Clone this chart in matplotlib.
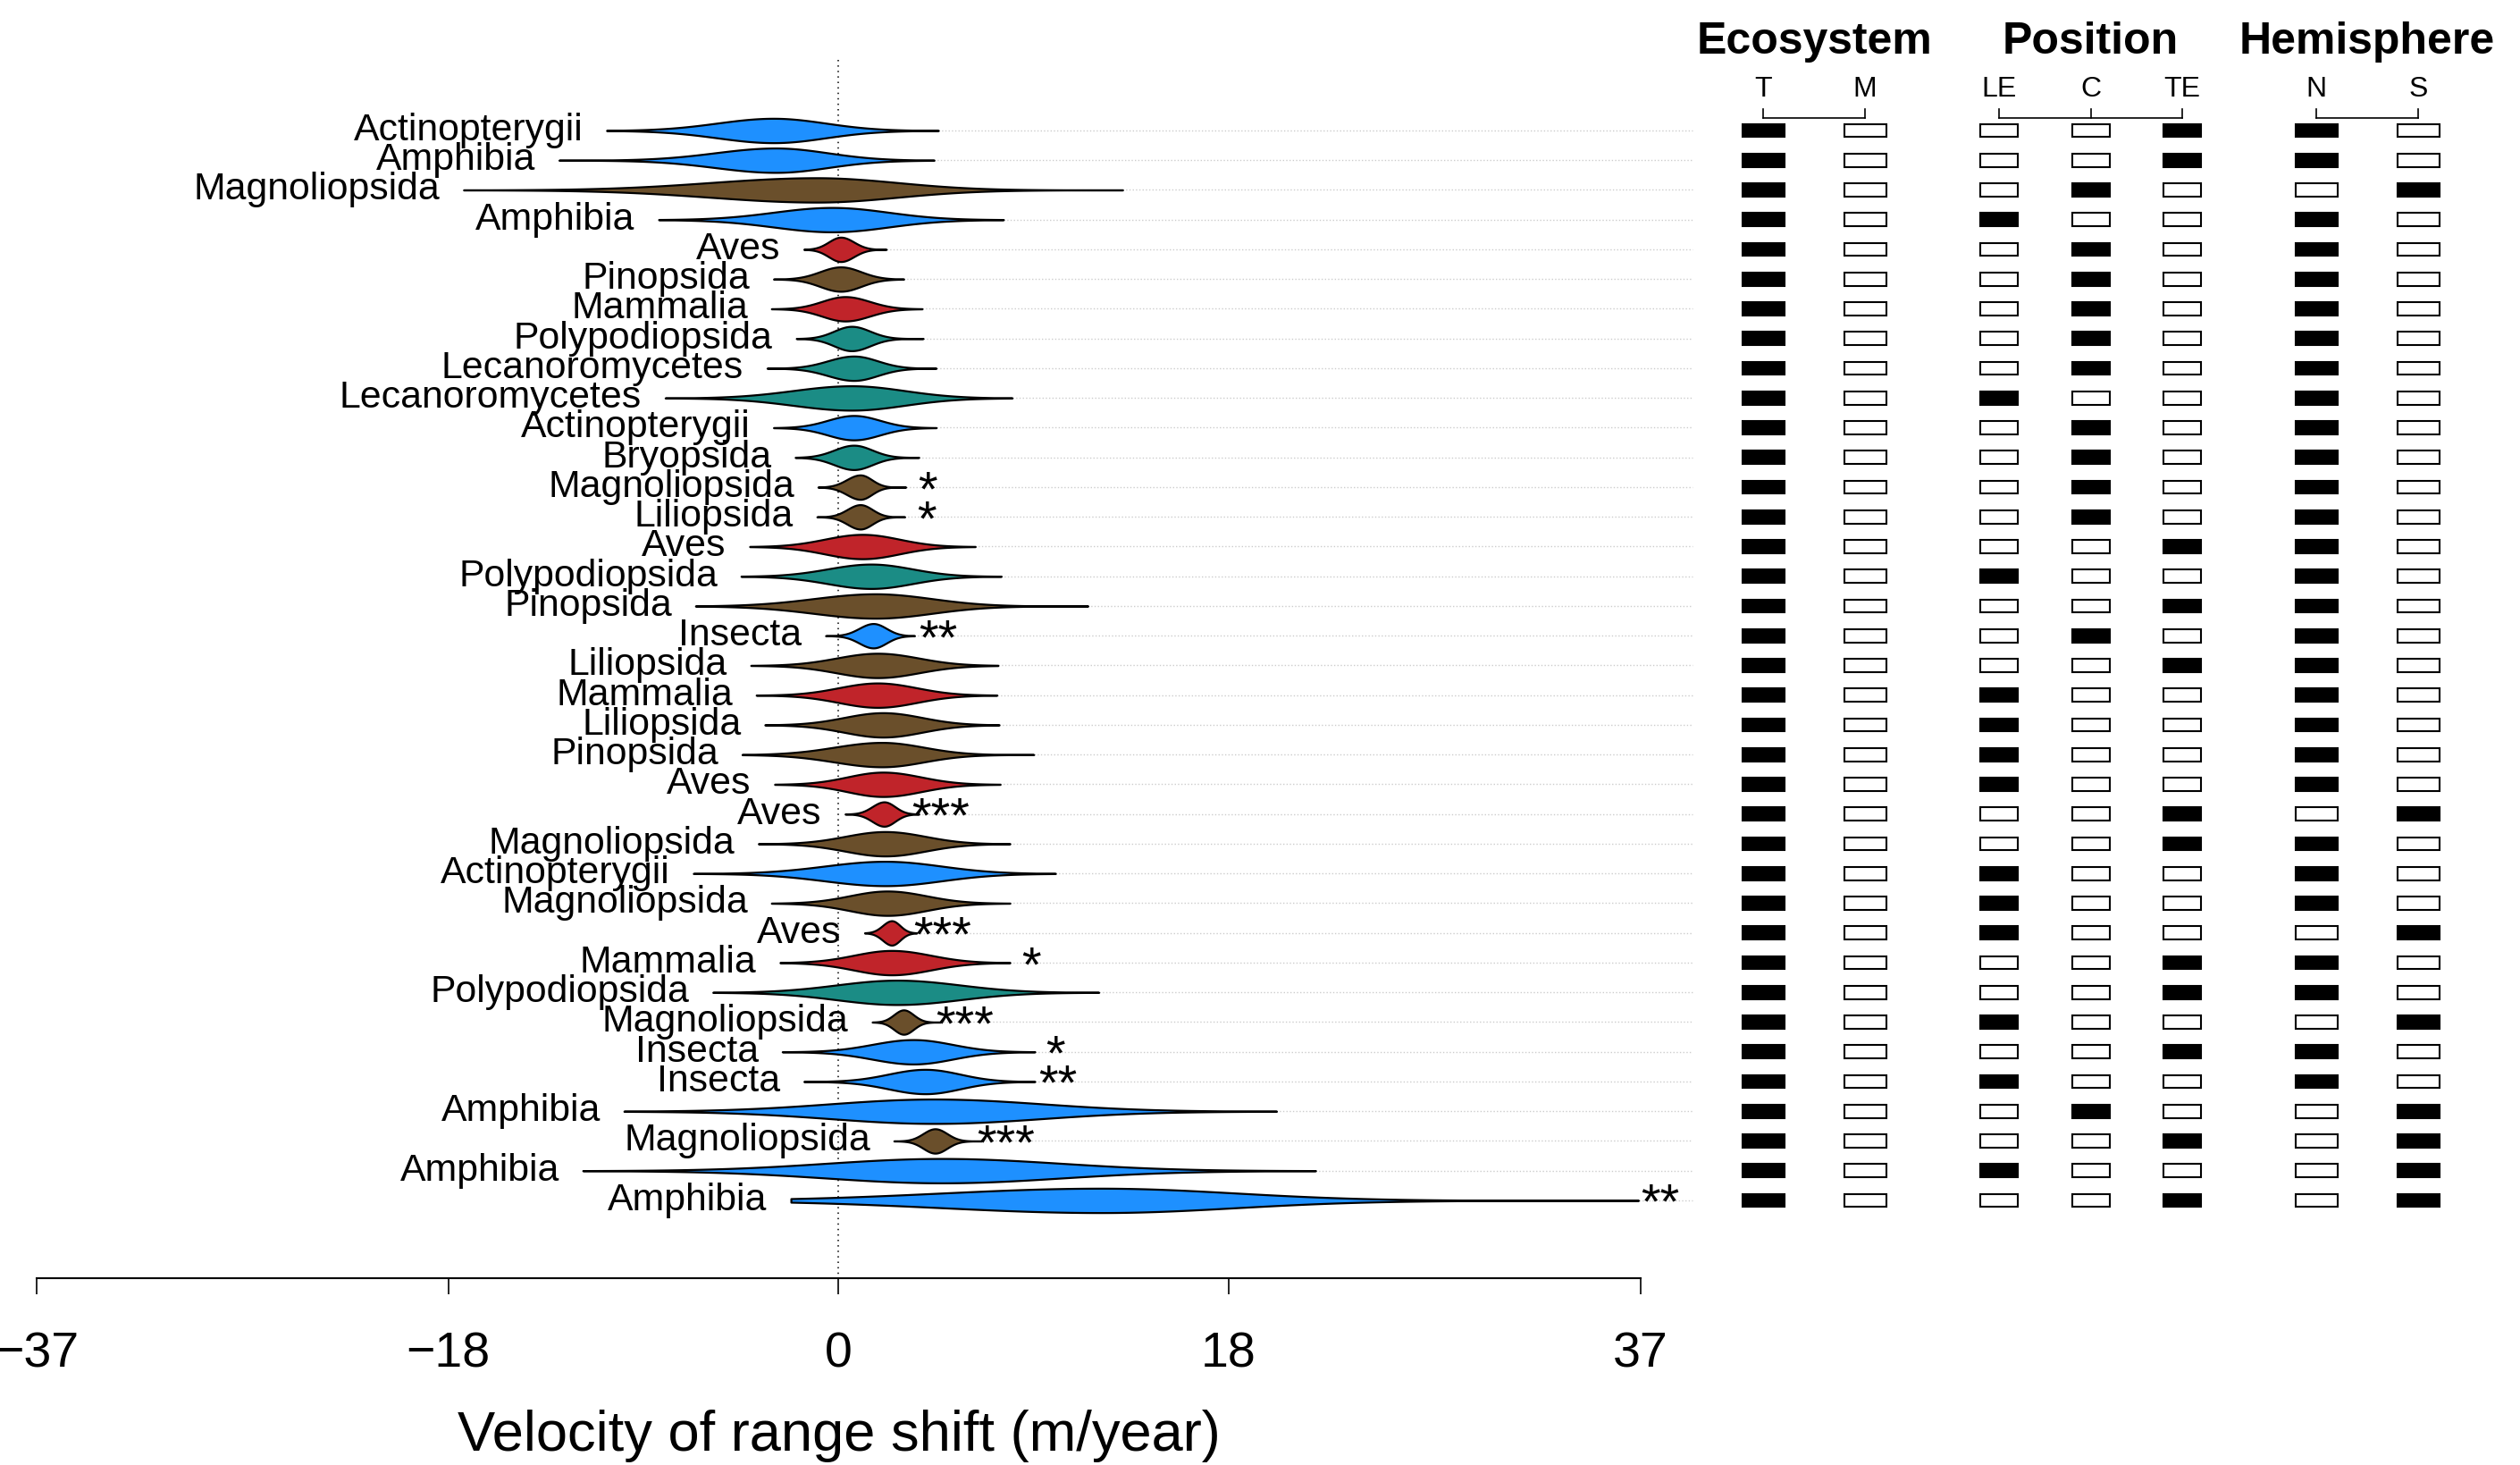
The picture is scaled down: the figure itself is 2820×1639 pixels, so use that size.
import numpy as np
import matplotlib
matplotlib.use("Agg")
import matplotlib.pyplot as plt
from matplotlib.patches import Rectangle
from matplotlib.transforms import blended_transform_factory

plt.rcParams['font.family'] = ['Liberation Sans', 'DejaVu Sans']

# ---------- data ----------
labels = ["Actinopterygii", "Amphibia", "Magnoliopsida", "Amphibia", "Aves", "Pinopsida",
          "Mammalia", "Polypodiopsida", "Lecanoromycetes", "Lecanoromycetes", "Actinopterygii",
          "Bryopsida", "Magnoliopsida", "Liliopsida", "Aves", "Polypodiopsida", "Pinopsida",
          "Insecta", "Liliopsida", "Mammalia", "Liliopsida", "Pinopsida", "Aves", "Aves",
          "Magnoliopsida", "Actinopterygii", "Magnoliopsida", "Aves", "Mammalia",
          "Polypodiopsida", "Magnoliopsida", "Insecta", "Insecta", "Amphibia", "Magnoliopsida",
          "Amphibia", "Amphibia"]

v_min = [-10.7, -12.9, -17.3, -8.3, -1.6, -3.0, -3.1, -1.95, -3.3, -8.0, -3.0, -2.0, -0.95,
         -1.0, -4.1, -4.5, -6.6, -0.6, -4.05, -3.8, -3.4, -4.45, -2.95, 0.3, -3.7, -6.7, -3.1,
         1.2, -2.7, -5.8, 1.55, -2.6, -1.6, -9.9, 2.55, -11.8, -2.2]
v_mode = [-3.0, -2.9, -1.0, -0.3, 0.1, 0.1, 0.3, 0.6, 0.7, 0.6, 0.7, 0.7, 1.0, 1.0, 1.1, 1.5,
          1.7, 1.6, 1.8, 1.8, 2.05, 2.0, 2.05, 2.1, 2.15, 2.15, 2.25, 2.45, 2.45, 2.7, 3.0,
          3.45, 4.0, 4.4, 4.45, 4.75, 12.1]
v_max = [4.6, 4.4, 13.1, 7.6, 2.2, 3.0, 3.85, 3.9, 4.5, 8.0, 4.5, 3.7, 3.1, 3.05, 6.3, 7.5,
         11.5, 3.5, 7.35, 7.3, 7.4, 9.0, 7.45, 3.7, 7.9, 10.0, 7.9, 3.6, 7.9, 12.0, 4.7, 9.05,
         9.05, 20.2, 6.6, 22.0, 36.9]
sd_left = [2.6, 2.8, 4.9, 2.7, 0.56, 0.96, 1.07, 0.81, 1.2, 2.7, 1.2, 0.9, 0.63, 0.6, 1.74,
           2.0, 2.85, 0.65, 1.9, 1.8, 1.8, 2.2, 1.65, 0.55, 1.85, 2.8, 1.75, 0.42, 1.75, 2.8,
           0.45, 1.9, 1.7, 4.8, 0.55, 5.3, 7.3]
sd_right = [2.4, 2.4, 3.7, 2.6, 0.6, 0.93, 1.13, 0.85, 1.1, 2.44, 1.2, 0.85, 0.53, 0.55, 1.7,
            1.9, 2.6, 0.6, 1.9, 1.8, 1.8, 1.93, 1.75, 0.5, 1.85, 2.6, 1.8, 0.38, 1.8, 2.9,
            0.45, 1.8, 1.6, 5.0, 0.55, 5.5, 6.2]

stars = ["", "", "", "", "", "", "", "", "", "", "", "", "*", "*", "", "", "", "**", "", "",
         "", "", "", "***", "", "", "", "***", "*", "", "***", "*", "**", "", "***", "", "**"]
star_x = [0, 0, 0, 0, 0, 0, 0, 0, 0, 0, 0, 0, 4.1, 4.05, 0, 0, 0, 4.6, 0, 0,
          0, 0, 0, 4.7, 0, 0, 0, 4.8, 8.9, 0, 5.8, 10.0, 10.1, 0, 7.7, 0, 37.9]

ecosystem = ["T"] * 37
position = ["TE", "TE", "C", "LE", "C", "C", "C", "C", "C", "LE", "C", "C", "C", "C", "TE",
            "LE", "TE", "C", "TE", "LE", "LE", "LE", "LE", "TE", "TE", "LE", "LE", "LE", "TE",
            "TE", "LE", "TE", "LE", "C", "TE", "LE", "TE"]
hemisphere = ["N", "N", "S", "N", "N", "N", "N", "N", "N", "N", "N", "N", "N", "N", "N", "N",
              "N", "N", "N", "N", "N", "N", "N", "S", "N", "N", "N", "S", "N", "N", "S", "N",
              "N", "S", "S", "S", "S"]

xticks = [-37, -18, 0, 18, 37]
xtick_labels = ["\u221237", "\u221218", "0", "18", "37"]

# ---------- style ----------
BLUE, BROWN, RED, TEAL = "#1E90FF", "#6A4F2B", "#C0242A", "#1B8C85"
class_col = {"Actinopterygii": BLUE, "Amphibia": BLUE, "Insecta": BLUE,
             "Magnoliopsida": BROWN, "Pinopsida": BROWN, "Liliopsida": BROWN,
             "Aves": RED, "Mammalia": RED,
             "Polypodiopsida": TEAL, "Lecanoromycetes": TEAL, "Bryopsida": TEAL}

W, H = 2820, 1639
fig = plt.figure(figsize=(W / 100, H / 100), dpi=100)

top_i, bot_i = -3.391, 39.617   # row units at top of figure / axis line
ax = fig.add_axes([0, 1 - 1430 / H, 1910 / W, 1430 / H])
ax.set_xlim(-38.686, 40.05)
ax.set_ylim(bot_i, top_i)

rows = np.arange(1, len(labels) + 1)
HALF = 0.41

for i, r in enumerate(rows):
    x = np.linspace(v_min[i], v_max[i], 600)
    s = np.where(x < v_mode[i], sd_left[i], sd_right[i])
    d = np.exp(-0.5 * ((x - v_mode[i]) / s) ** 2)
    ax.plot([v_max[i], 39.4], [r, r], ls=":", color="#cccccc", lw=1, zorder=1)
    ax.fill_between(x, r - HALF * d, r + HALF * d, facecolor=class_col[labels[i]],
                    edgecolor="black", lw=1.6, zorder=3)
    ax.annotate(labels[i], (v_min[i], r + 0.33), xytext=(-19, 0), textcoords="offset points",
                ha="right", va="baseline", fontsize=30.8, zorder=4)
    if stars[i]:
        ax.text(star_x[i], r + 0.6, stars[i], ha="center", va="baseline", fontsize=40, zorder=4)

ax.plot([0, 0], [-1.376, bot_i], ls=(0, (1, 3)), color="black", lw=1.1, zorder=2)

for sp in ["top", "right", "left"]:
    ax.spines[sp].set_visible(False)
ax.spines["bottom"].set_bounds(-37, 37)
ax.spines["bottom"].set_linewidth(1.5)
ax.set_yticks([])
ax.set_xticks(xticks)
ax.set_xticklabels(xtick_labels, fontsize=40)
ax.tick_params(axis="x", direction="out", length=13, width=1.2, pad=30)
trans = blended_transform_factory(ax.transData, ax.transAxes)
ax.text(0, -(1607 - 1430) / 1430, "Velocity of range shift (m/year)", transform=trans,
        ha="center", va="center", fontsize=45.5)

# ---------- category matrix ----------
ax2 = fig.add_axes([1910 / W, 1 - 1430 / H, 910 / W, 1430 / H])
ax2.set_xlim(0, 9.1)
ax2.set_ylim(bot_i, top_i)
ax2.axis("off")

col_x = {"T": 0.63, "M": 1.77, "LE": 3.27, "C": 4.30, "TE": 5.32, "N": 6.82, "S": 7.96}
groups = [("Ecosystem", ["T", "M"], ecosystem, 0.47),
          ("Position", ["LE", "C", "TE"], position, 0.42),
          ("Hemisphere", ["N", "S"], hemisphere, 0.47)]
BOX_H = 0.45
for title, cols, values, bw in groups:
    xs = [col_x[c] for c in cols]
    ax2.text(np.mean(xs), -1.586, title, ha="center", va="baseline", fontsize=36,
             fontweight="bold", clip_on=False)
    for c in cols:
        ax2.text(col_x[c], -0.143, c, ha="center", va="baseline", fontsize=23)
        ax2.plot([col_x[c], col_x[c]], [0.278, 0.579], color="black", lw=1.2)
    ax2.plot([xs[0], xs[-1]], [0.579, 0.579], color="black", lw=1.2)
    for i, r in enumerate(rows):
        for c in cols:
            filled = values[i] == c
            ax2.add_patch(Rectangle((col_x[c] - bw / 2, r - BOX_H / 2), bw, BOX_H,
                                    facecolor="black" if filled else "white",
                                    edgecolor="black", lw=1.5))

fig.savefig("out.png", dpi=100)
